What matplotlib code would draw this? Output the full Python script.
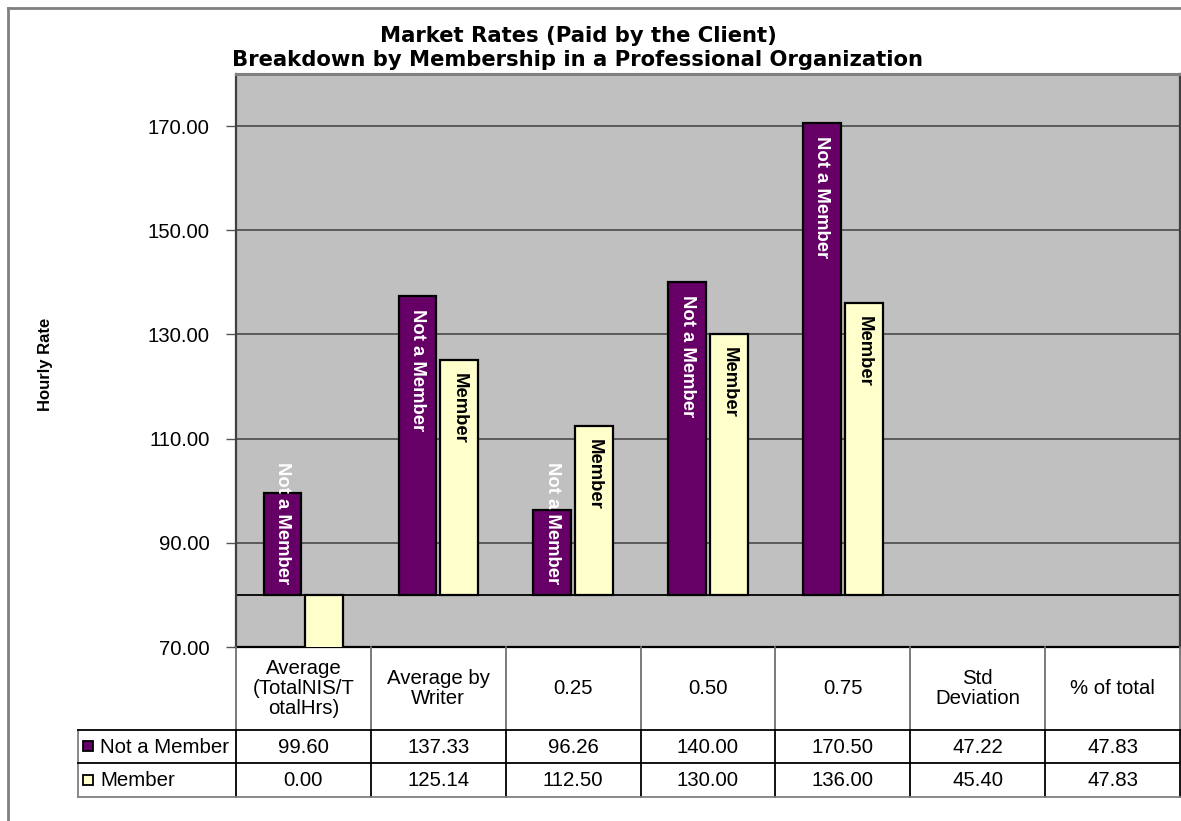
import matplotlib
matplotlib.use("Agg")
import matplotlib.pyplot as plt
from matplotlib.patches import Rectangle
import numpy as np

# ---------------- data ----------------
categories = ["Average\n(TotalNIS/T\notalHrs)", "Average by\nWriter", "0.25", "0.50",
              "0.75", "Std\nDeviation", "% of total"]
series_names = ["Not a Member", "Member"]
not_member = [99.60, 137.33, 96.26, 140.00, 170.50, 47.22, 47.83]
member = [0.00, 125.14, 112.50, 130.00, 136.00, 45.40, 47.83]
bar_shown = [True, True, True, True, True, False, False]
yticks = [70, 90, 110, 130, 150, 170]
title_lines = ["Market Rates (Paid by the Client)",
               "Breakdown by Membership in a Professional Organization"]
y_label = "Hourly Rate"

# ---------------- style ----------------
plt.rcParams['font.family'] = ['Liberation Sans', 'DejaVu Sans']
colors = ['#660066', '#FFFFCC']
label_colors = ['white', 'black']
W, H = 1181, 821
FS = 14.7

fig = plt.figure(figsize=(W / 100, H / 100), dpi=100)
fig.patch.set_facecolor('white')

def fy(py):
    return 1 - py / H

ax = fig.add_axes([236 / W, fy(647), (1180 - 236) / W, (647 - 74) / H])
ax.set_facecolor('#C0C0C0')
ax.set_xlim(-0.5, len(categories) - 0.5)
ax.set_ylim(70, 180)
base = 80

x = np.arange(len(categories))
width = 0.28
offset = 0.155
series = [not_member, member]
anns = []
for s, vals in enumerate(series):
    sign = -1 if s == 0 else 1
    for i, v in enumerate(vals):
        if not bar_shown[i]:
            continue
        xc = x[i] + sign * offset
        ax.bar(xc, v - base, bottom=base, width=width, color=colors[s],
               edgecolor='black', linewidth=1.6, zorder=3)
        if v > ax.get_ylim()[0]:
            a = ax.annotate(series_names[s], xy=(xc, v), xytext=(0, -13),
                            textcoords='offset pixels', rotation=-90,
                            ha='center', va='top', color=label_colors[s],
                            fontsize=13.3, fontweight='bold', zorder=5)
            anns.append((a, xc))

ax.axhline(base, color='black', linewidth=1.3, zorder=2.5)
ax.set_yticks(yticks)
ax.set_yticklabels([f"{t:.2f}" for t in yticks], fontsize=FS)
ax.yaxis.grid(True, color='#404040', linewidth=1.1)
ax.set_axisbelow(True)
ax.tick_params(axis='y', direction='out', length=7, width=1, color='#555555', pad=12)
ax.set_xticks([])
for side, c, lw in [('left', '#404040', 1.6), ('top', '#808080', 2.2),
                    ('right', '#404040', 1.6), ('bottom', 'black', 1.6)]:
    ax.spines[side].set_color(c)
    ax.spines[side].set_linewidth(lw)

# titles and axis label
fig.text(578 / W, fy(42), title_lines[0], ha='center', va='baseline',
         fontsize=15.2, fontweight='bold', family=['DejaVu Sans'])
fig.text(578 / W, fy(66), title_lines[1], ha='center', va='baseline',
         fontsize=15.2, fontweight='bold', family=['DejaVu Sans'])
fig.text(45 / W, fy(364), y_label, rotation=90, ha='center', va='center',
         fontsize=12, fontweight='bold')

# adjust bar labels that do not fit inside the bar
fig.canvas.draw()
base_disp = ax.transData.transform((0, base))[1]
for a, xc in anns:
    bb = a.get_window_extent()
    if bb.y0 < base_disp + 11:
        a.xy = (xc, base)
        a.set_position((0, 11))
        a.set_va('bottom')

# ---------------- data table ----------------
tab = fig.add_axes([0, 0, 1, 1], zorder=6)
tab.set_xlim(0, W)
tab.set_ylim(H, 0)
tab.axis('off')
tab.patch.set_alpha(0)

bounds = [ax.transData.transform((i - 0.5, 0))[0] for i in range(len(categories) + 1)]
y_head0, y_head1, y_r1, y_r2 = 647, 730, 763, 797
leg_x0 = 78

for xb in bounds:
    tab.plot([xb, xb], [y_head0, y_head1], color='#707070', lw=1.3)
    tab.plot([xb, xb], [y_head1, y_r2], color='black', lw=1.3)
tab.plot([leg_x0, leg_x0], [y_head1, y_r2], color='#808080', lw=1.3)
for yy, c in [(y_head1, 'black'), (y_r1, 'black'), (y_r2, '#808080')]:
    tab.plot([leg_x0, bounds[-1]], [yy, yy], color=c, lw=1.3)

for i, cat in enumerate(categories):
    xm = (bounds[i] + bounds[i + 1]) / 2
    tab.text(xm, (y_head0 + y_head1) / 2, cat, ha='center', va='center',
             fontsize=FS, linespacing=1.1)
    for r, (vals, yc) in enumerate([(not_member, (y_head1 + y_r1) / 2),
                                    (member, (y_r1 + y_r2) / 2)]):
        tab.text(xm, yc + 1, f"{vals[i]:.2f}", ha='center', va='center', fontsize=FS)

for r, yc in enumerate([(y_head1 + y_r1) / 2, (y_r1 + y_r2) / 2]):
    tab.add_patch(Rectangle((83, yc - 5), 10, 10, facecolor=colors[r],
                            edgecolor='black', linewidth=1.3))
    tab.text(100, yc + 1, series_names[r], ha='left', va='center', fontsize=FS)

# outer border of the chart area
tab.plot([8, 8], [8, H], color='#808080', lw=2)
tab.plot([8, W], [8, 8], color='#808080', lw=2)

fig.savefig('out.png', dpi=100)
